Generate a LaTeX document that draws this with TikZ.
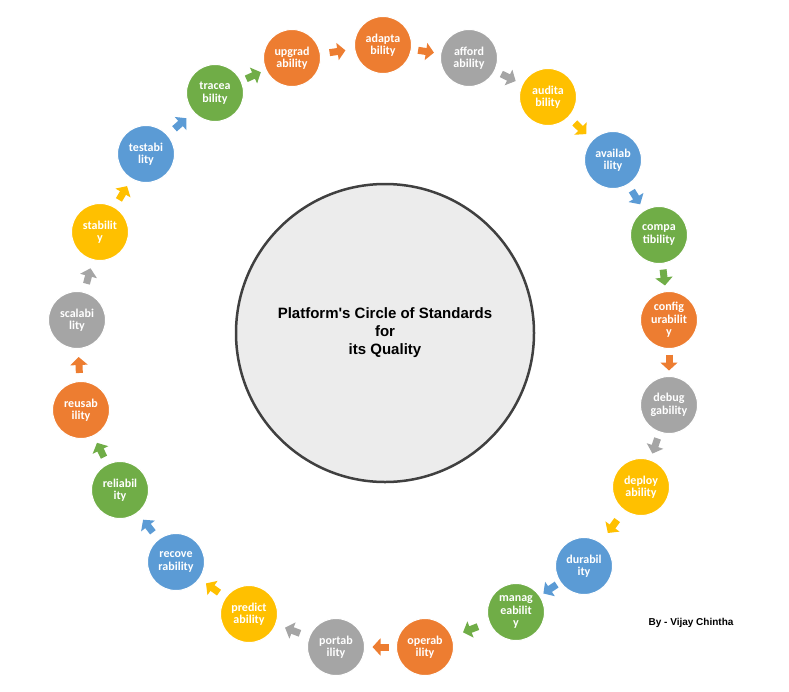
\documentclass[tikz,border=0pt]{standalone}
\usepackage{fontspec}
\setmainfont{Carlito}
\newfontfamily\titlefont{Liberation Sans}
\usetikzlibrary{arrows.meta,calc}

\definecolor{qorange}{HTML}{ED7D31}
\definecolor{qgray}{HTML}{A5A5A5}
\definecolor{qyellow}{HTML}{FFC000}
\definecolor{qblue}{HTML}{5B9BD5}
\definecolor{qgreen}{HTML}{70AD47}

\tikzset{
  quality/.style={circle, minimum size=57pt, inner sep=0pt, fill=#1, draw=white,
    line width=1pt, text=white, font=\fontsize{12}{12.5}\selectfont\bfseries, align=center},
  flow/.style={draw=#1, line width=7pt, -{Triangle[length=8pt,width=17pt]}}
}

\begin{document}
\begin{tikzpicture}[x=1pt,y=-1pt]
\useasboundingbox (0,0) rectangle (789,691);

% the standard in the middle
\node[circle, minimum size=298pt, fill=gray!15, draw=black!75, line width=2.5pt,
  font=\titlefont\fontsize{15}{18}\selectfont\bfseries, align=center] (core) at (385,333)
  {Platform's Circle of Standards\\for\\its Quality};

% qualities, clockwise
\foreach \name/\x/\y/\col/\txt in {
  c1/292/58/qorange/{upgrad\\ability},
  c2/383/45/qorange/{adapta\\bility},
  c3/469/58/qgray/{afford\\ability},
  c4/548/97/qyellow/{audita\\bility},
  c5/613/160/qblue/{availab\\ility},
  c6/659/235/qgreen/{compa\\tibility},
  c7/669/320/qorange/{config\\urabilit\\y},
  c8/669/405/qgray/{debug\\gability},
  c9/641/487/qyellow/{deploy\\ability},
  c10/584/566/qblue/{durabil\\ity},
  c11/516/612/qgreen/{manag\\eabilit\\y},
  c12/425/647/qorange/{operab\\ility},
  c13/336/647/qgray/{portab\\ility},
  c14/249/614/qyellow/{predict\\ability},
  c15/176/562/qblue/{recove\\rability},
  c16/120/490/qgreen/{reliabil\\ity},
  c17/81/410/qorange/{reusab\\ility},
  c18/77/320/qgray/{scalabi\\lity},
  c19/100/232/qyellow/{stabilit\\y},
  c20/146/154/qblue/{testabi\\lity},
  c21/215/93/qgreen/{tracea\\bility}}
  \node[quality=\col] (\name) at (\x,\y) {\txt};

% arrows between them
\foreach \a/\b/\col in {c1/c2/qorange, c2/c3/qorange, c3/c4/qgray, c4/c5/qyellow,
  c5/c6/qblue, c6/c7/qgreen, c7/c8/qorange, c8/c9/qgray, c9/c10/qyellow,
  c10/c11/qblue, c11/c12/qgreen, c12/c13/qorange, c13/c14/qgray, c14/c15/qyellow,
  c15/c16/qblue, c16/c17/qgreen, c17/c18/qorange, c18/c19/qgray, c19/c20/qyellow,
  c20/c21/qblue, c21/c1/qgreen}{
  \path (\a) -- (\b) coordinate[pos=.5] (mid);
  \draw[flow=\col] ($(mid)!8pt!(\a)$) -- ($(mid)!8pt!(\b)$);
}

\node[font=\titlefont\fontsize{10}{12}\selectfont\bfseries] (author) at (691,623) {By - Vijay Chintha};
\end{tikzpicture}
\end{document}
